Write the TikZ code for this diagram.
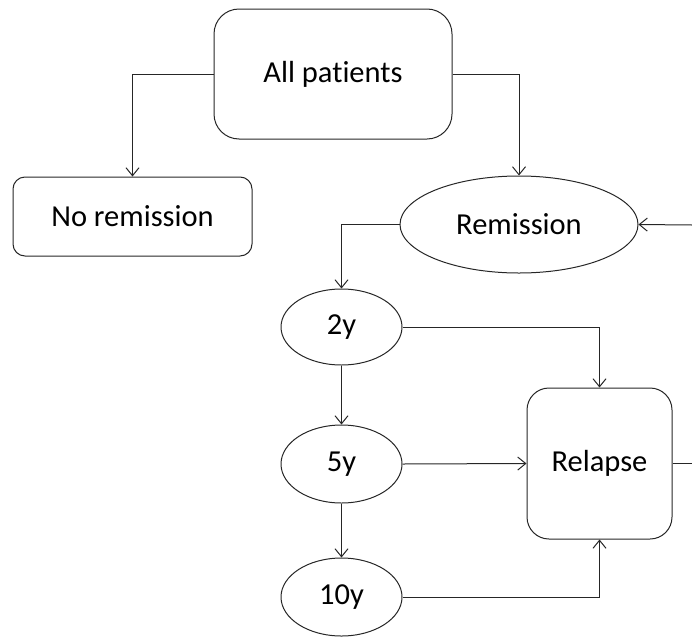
\documentclass[tikz,border=0pt]{standalone}
\usepackage{fontspec}
\setmainfont{Carlito}[Ligatures={NoCommon}]
\usetikzlibrary{arrows.meta,shapes.geometric}
\begin{document}
\begin{tikzpicture}[x=1pt,y=-1pt,
  box/.style={draw=black!85, rounded corners=#1, inner sep=0pt, line width=1pt},
  ell/.style={draw=black!85, ellipse, inner sep=0pt, line width=1pt},
  conn/.style={draw=black!85, line width=1pt, -{Straight Barb[length=8pt,width=13pt]}},
  plain/.style={draw=black!85, line width=1pt},
  font=\fontsize{30.5}{34}\selectfont]
\useasboundingbox (0,0) rectangle (692,637);
\node[box=25pt, minimum width=238pt, minimum height=130pt] (all) at (333,74) {All patients};
\node[box=12pt, minimum width=239pt, minimum height=79pt] (nor) at (132.5,216.5) {No remission};
\node[ell, minimum width=238pt, minimum height=97pt] (rem) at (519,224.5) {Remission};
\node[ell, minimum width=121pt, minimum height=76pt] (y2) at (341.5,327) {2y};
\node[ell, minimum width=121pt, minimum height=78pt] (y5) at (341.5,464) {5y};
\node[ell, minimum width=121pt, minimum height=78pt] (y10) at (341.5,597) {10y};
\node[box=22pt, minimum width=145pt, minimum height=151pt] (rel) at (599.5,463.5) {Relapse};
\coordinate (rin) at (692,225);
\coordinate (rout) at (692,464);
\draw[conn] (all.west) -| (nor.north);
\draw[conn] (all.east) -| (rem.north);
\draw[conn] (rin) -- (rem.east);
\draw[conn] (rem.west) -| (y2.north);
\draw[conn] (y2.south) -- (y5.north);
\draw[conn] (y5.south) -- (y10.north);
\draw[conn] (y2.east) -| (rel.north);
\draw[conn] (y5.east) -- (rel.west);
\draw[conn] (y10.east) -| (rel.south);
\draw[plain] (rel.east) -- (rel.east -| rout);
\end{tikzpicture}
\end{document}
